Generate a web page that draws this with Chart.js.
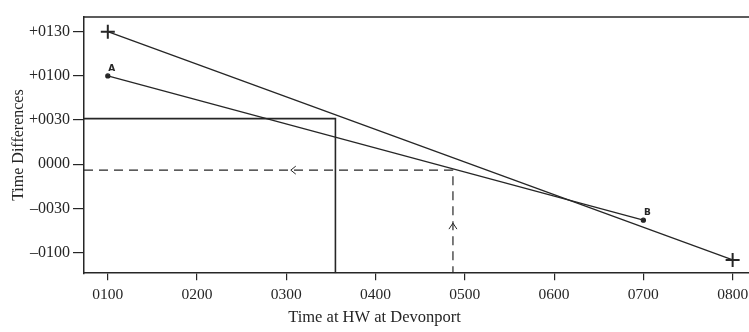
<!DOCTYPE html>
<html>
<head>
<meta charset="utf-8">
<script src="https://cdn.jsdelivr.net/npm/chart.js@4"></script>
<style>
	html, body { margin: 0; padding: 0; background: #fff; }
	#wrap { width: 749px; height: 332px; }
</style>
</head>
<body>
<div id="wrap"><canvas id="tideChart" width="749" height="332"></canvas></div>
<script>
// axis ranges in minutes (x: time of HW, y: time difference)
const xMin = 44;
const xMax = 491;
const yMin = -74;
const yMax = 100;

const xTicks = [60, 120, 180, 240, 300, 360, 420, 480];
const xTickLabels = ["0100", "0200", "0300", "0400", "0500", "0600", "0700", "0800"];
const yTicks = [-60, -30, 0, 30, 60, 90];
const yTickLabels = ["–0100", "–0030", "0000", "+0030", "+0100", "+0130"];

// steep line between the two crosses
const crossTimes = [60, 480];
const crossDiffs = [90, -65];

// line A - B
const abTimes = [60, 420];
const abDiffs = [60, -38];
const abLabels = ["A", "B"];

// solid construction line (+0030 across, then down)
const solidTimes = [xMin, 213, 213];
const solidDiffs = [31, 31, yMin];

// dashed construction line (up from 0452, then across)
const dashedTimes = [xMin, 292, 292];
const dashedDiffs = [-4, -4, yMin];

// arrow heads on the dashed line
const arrowLeft = { x: 183, y: -4 };
const arrowUp = { x: 292, y: -40 };

const ink = "#262626";
const serif = "'Liberation Serif', 'DejaVu Serif', serif";

function toPoints(xs, ys) {
	return xs.map((x, i) => ({ x: x, y: ys[i] }));
}

const extras = {
	id: "extras",
	afterDatasetsDraw(chart) {
		const ctx = chart.ctx;
		const area = chart.chartArea;
		const xs = chart.scales.x;
		const ys = chart.scales.y;
		ctx.save();
		ctx.strokeStyle = ink;
		ctx.lineWidth = 1.3;

		// top frame line
		ctx.beginPath();
		ctx.moveTo(area.left, area.top);
		ctx.lineTo(area.right, area.top);
		ctx.stroke();

		// arrow heads
		ctx.lineWidth = 1;
		let px = xs.getPixelForValue(arrowLeft.x);
		let py = ys.getPixelForValue(arrowLeft.y);
		ctx.beginPath();
		ctx.moveTo(px + 5, py - 4);
		ctx.lineTo(px, py);
		ctx.lineTo(px + 5, py + 4);
		ctx.stroke();

		px = xs.getPixelForValue(arrowUp.x);
		py = ys.getPixelForValue(arrowUp.y);
		ctx.beginPath();
		ctx.moveTo(px - 4, py + 6);
		ctx.lineTo(px, py);
		ctx.lineTo(px + 4, py + 6);
		ctx.stroke();

		// A / B labels
		ctx.fillStyle = ink;
		ctx.font = "bold 9px 'DejaVu Sans', sans-serif";
		ctx.textAlign = "center";
		ctx.textBaseline = "bottom";
		const meta = chart.getDatasetMeta(1);
		meta.data.forEach((pt, i) => {
			ctx.fillText(abLabels[i], pt.x + 4, pt.y - 3);
		});
		ctx.restore();
	},
};

const ctx = document.getElementById("tideChart").getContext("2d");
const chart = new Chart(ctx, {
	type: "scatter",
	data: {
		datasets: [
			{
				data: toPoints(crossTimes, crossDiffs),
				showLine: true,
				borderColor: ink,
				borderWidth: 1.3,
				pointStyle: "cross",
				pointRadius: 7,
				pointBorderWidth: 2,
				pointBorderColor: ink,
			},
			{
				data: toPoints(abTimes, abDiffs),
				showLine: true,
				borderColor: ink,
				borderWidth: 1.3,
				pointRadius: 2,
				pointBackgroundColor: ink,
				pointBorderColor: ink,
			},
			{
				data: toPoints(solidTimes, solidDiffs),
				showLine: true,
				borderColor: ink,
				borderWidth: 1.6,
				pointRadius: 0,
			},
			{
				data: toPoints(dashedTimes, dashedDiffs),
				showLine: true,
				borderColor: ink,
				borderWidth: 1.2,
				borderDash: [9, 6],
				pointRadius: 0,
			},
		],
	},
	options: {
		responsive: false,
		animation: false,
		layout: { autoPadding: false, padding: { top: 17, right: 0, left: 0, bottom: 0 } },
		plugins: {
			legend: { display: false },
			tooltip: { enabled: false },
			title: {
				display: true,
				position: "bottom",
				text: "Time at HW at Devonport",
				color: ink,
				font: { family: serif, size: 16.5, weight: "normal" },
				padding: { top: 9, bottom: 4 },
			},
		},
		scales: {
			x: {
				type: "linear",
				min: xMin,
				max: xMax,
				afterBuildTicks: (scale) => {
					scale.ticks = xTicks.map((v) => ({ value: v }));
				},
				afterFit: (scale) => {
					scale.height = 26;
					scale.paddingLeft = 0;
					scale.paddingRight = 0;
				},
				ticks: {
					color: ink,
					font: { family: serif, size: 15.5 },
					padding: 5,
					maxRotation: 0,
					callback: (value) => xTickLabels[xTicks.indexOf(value)],
				},
				grid: { drawOnChartArea: false, drawTicks: true, tickLength: 7, color: ink, lineWidth: 1.2 },
				border: { display: true, color: ink, width: 1.5 },
			},
			y: {
				type: "linear",
				min: yMin,
				max: yMax,
				afterBuildTicks: (scale) => {
					scale.ticks = yTicks.map((v) => ({ value: v }));
				},
				afterFit: (scale) => {
					scale.width = 84;
				},
				title: {
					display: true,
					text: "Time Differences",
					color: ink,
					font: { family: serif, size: 16 },
					padding: { top: 9, bottom: 0 },
				},
				ticks: {
					color: ink,
					font: { family: serif, size: 16 },
					padding: 3,
					callback: (value) => yTickLabels[yTicks.indexOf(value)],
				},
				grid: { drawOnChartArea: false, drawTicks: true, tickLength: 11, color: ink, lineWidth: 1.2 },
				border: { display: true, color: ink, width: 1.5 },
			},
		},
	},
	plugins: [extras],
});
</script>
</body>
</html>
